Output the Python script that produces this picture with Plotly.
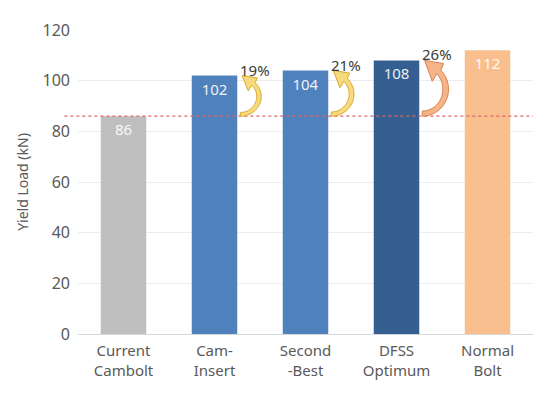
import math
import plotly.graph_objects as go

categories = ["Current<br>Cambolt", "Cam-<br>Insert", "Second<br>-Best", "DFSS<br>Optimum", "Normal<br>Bolt"]
values = [86, 102, 104, 108, 112]
bar_colors = ["#BFBFBF", "#4F81BD", "#4F81BD", "#365F91", "#F9BF8F"]
arrow_targets = [1, 2, 3]
arrow_fill = ["#F7DA7E", "#F7DA7E", "#F5B48A"]
arrow_line = ["#D9A92E", "#D9A92E", "#D98050"]
y_ticks = [0, 20, 40, 60, 80, 100, 120]

baseline = values[0]
xs = list(range(len(categories)))

fig = go.Figure()
fig.add_trace(go.Bar(
    x=xs, y=values, width=0.5,
    marker=dict(color=bar_colors, line=dict(width=0)),
    text=[str(v) for v in values], textposition="inside", insidetextanchor="end",
    textfont=dict(color="rgba(255,255,255,0.92)", size=15, family="Noto Sans"),
    hoverinfo="skip",
))

shapes = []
shapes.append(dict(type="line", xref="paper", yref="y", x0=-0.03, x1=1.0, y0=baseline, y1=baseline,
                   line=dict(color="#E06666", width=1.2, dash="dot"), layer="above"))


def arrow_path(i, v):
    pts = []
    cx, cy = 0.0, 17.0
    for k in range(0, 28):
        a = math.radians(-90 + k * 135 / 27)
        pts.append((cx + 21 * math.cos(a), cy + 17 * math.sin(a)))
    pts += [(17.0, 33.2), (1.9, 35.2), (8.0, 22.0)]
    for k in range(27, -1, -1):
        a = math.radians(-90 + k * 135 / 27)
        pts.append((cx + 16.5 * math.cos(a), cy + 13.8 * math.sin(a)))
    wscale = 1 + 0.25 * (v - 102) / 6
    out = []
    for u, h in pts:
        x = i + 0.283 + u * wscale / 91
        y = baseline + h / 35.2 * (v - baseline)
        out.append((x, y))
    return "M " + " L ".join(f"{x:.4f},{y:.4f}" for x, y in out) + " Z"


for n, i in enumerate(arrow_targets):
    v = values[i]
    shapes.append(dict(type="path", xref="x", yref="y", path=arrow_path(i, v),
                       fillcolor=arrow_fill[n], line=dict(color=arrow_line[n], width=1), layer="above"))
    pct = round((v - baseline) / baseline * 100)
    fig.add_annotation(x=i + 0.45, y=v, text=f"{pct}%", showarrow=False, xref="x", yref="y",
                       yanchor="middle", yshift=6,
                       font=dict(size=15, color="#3A3A3A", family="Noto Sans"))

fig.update_layout(
    width=536, height=388,
    margin=dict(l=70, r=11, t=18, b=62),
    paper_bgcolor="white", plot_bgcolor="white",
    showlegend=False, shapes=shapes,
    font=dict(family="Noto Sans", color="#595959"),
    xaxis=dict(tickmode="array", tickvals=xs, ticktext=categories, range=[-0.5, 4.5],
               showgrid=False, zeroline=False, showline=False, ticklabelstandoff=6,
               tickfont=dict(size=15, color="#595959")),
    yaxis=dict(range=[0, 120], tickvals=y_ticks, showgrid=True, gridcolor="#EDEDED", gridwidth=1,
               zeroline=True, zerolinecolor="#D9D9D9", zerolinewidth=1,
               tickfont=dict(size=16, color="#595959"), ticks="", ticklen=0, ticklabelstandoff=7,
               title=dict(text="Yield Load (kN)", font=dict(size=14, color="#595959"), standoff=10)),
)

fig.write_html("out.html")
